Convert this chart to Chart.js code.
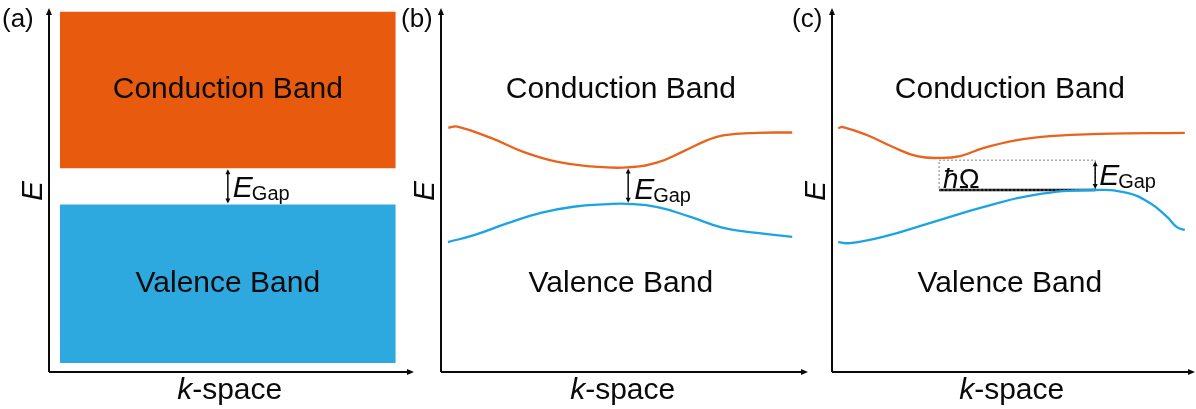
<!DOCTYPE html>
<html>
<head>
<meta charset="utf-8">
<script src="https://cdn.jsdelivr.net/npm/chart.js@4/dist/chart.umd.min.js"></script>
<style>
  html, body { margin: 0; padding: 0; background: #fff; }
  #wrap { position: relative; width: 1196px; height: 409px; overflow: hidden; }
  canvas { position: absolute; top: 0; }
</style>
</head>
<body>
<div id="wrap">
  <canvas id="panelA" width="420" height="409" style="left:0px"></canvas>
  <canvas id="panelB" width="415" height="409" style="left:395px"></canvas>
  <canvas id="panelC" width="406" height="409" style="left:790px"></canvas>
</div>
<script>
// k runs 0..100 along every x axis, energy 0..100 up every y axis

// (a) flat bands
const bandEdgeK = [3, 95];
const conductionBandA = [56, 99];   // [bottom, top]
const valenceBandA = [2.5, 46];     // [bottom, top]
const gapKA = 49;

// (b) direct gap
const kCondB = [2, 4.5, 13.6, 22.6, 31.8, 40.8, 50.8, 59, 66, 72.6, 76.9, 86.1, 95.7];
const conductionB = [67.1, 67.4, 64.3, 60.4, 57.7, 56.5, 56.2, 57.6, 60.6, 63.7, 65.0, 65.7, 65.8];
const kValB = [1.9, 9, 18.2, 27.2, 36.1, 45.4, 50.8, 59, 68, 76.9, 86.1, 95.7];
const valenceB = [35.7, 37.6, 40.9, 43.7, 45.4, 46.1, 46.2, 45.3, 42.6, 39.6, 38.2, 37.1];
const gapKB = 51;

// (c) indirect gap
const kCondC = [1.7, 3, 9.6, 16.8, 23.4, 29.8, 35.3, 41.6, 51, 60.1, 73.8, 97.2];
const conductionC = [67, 67.3, 65.1, 61.8, 59.3, 58.8, 59.3, 61.5, 63.7, 64.8, 65.4, 65.7];
const kValC = [1.7, 5, 14, 27.8, 41.6, 55.4, 71.9, 81.3, 87.6, 92.3, 95, 97.2];
const valenceC = [35.7, 35.4, 37.1, 41.2, 45.3, 48.6, 50, 49.2, 46.4, 42.6, 39.8, 39];
const phononK = [29.5, 72.5];       // [conduction minimum, valence maximum]
const phononE = [50, 58.2];         // [valence maximum, conduction minimum]

const ORANGE_FILL = '#E85B0E';
const BLUE_FILL = '#2EA9E0';
const ORANGE_LINE = '#E8631C';
const BLUE_LINE = '#1CA3E4';
const INK = '#0a0a0a';
const FONT = '"Liberation Sans", Arial, sans-serif';

function pts(xs, ys) {
  return xs.map((x, i) => ({ x: x, y: ys[i] }));
}

function curve(xs, ys, color) {
  return {
    data: pts(xs, ys),
    showLine: true,
    borderColor: color,
    borderWidth: 2.3,
    pointRadius: 0,
    tension: 0.45,
    fill: false
  };
}

function arrowHead(ctx, x, y, dir, len, half) {
  // dir: 'up', 'down', 'right'
  ctx.beginPath();
  if (dir === 'up') { ctx.moveTo(x, y); ctx.lineTo(x - half, y + len); ctx.lineTo(x + half, y + len); }
  if (dir === 'down') { ctx.moveTo(x, y); ctx.lineTo(x - half, y - len); ctx.lineTo(x + half, y - len); }
  if (dir === 'right') { ctx.moveTo(x, y); ctx.lineTo(x - len, y - half); ctx.lineTo(x - len, y + half); }
  ctx.closePath();
  ctx.fill();
}

function gapArrow(ctx, x, y1, y2) {
  ctx.strokeStyle = INK;
  ctx.fillStyle = INK;
  ctx.lineWidth = 1.5;
  ctx.beginPath();
  ctx.moveTo(x, y1 + 3);
  ctx.lineTo(x, y2 - 3);
  ctx.stroke();
  arrowHead(ctx, x, y1, 'up', 5, 2.5);
  arrowHead(ctx, x, y2, 'down', 5, 2.5);
}

function gapLabel(ctx, x, baseline) {
  ctx.fillStyle = INK;
  ctx.textAlign = 'left';
  ctx.textBaseline = 'alphabetic';
  ctx.font = 'italic 30px ' + FONT;
  ctx.fillText('E', x, baseline);
  const w = ctx.measureText('E').width;
  ctx.font = '20px ' + FONT;
  ctx.fillText('Gap', x + w - 1, baseline + 3);
}

// axes, panel tag, band names and gap marks
function annotations(spec) {
  return {
    id: 'bandNotes',
    afterDraw(chart) {
      const ctx = chart.ctx;
      const a = chart.chartArea;
      const xs = chart.scales.x;
      const ys = chart.scales.y;
      ctx.save();

      // arrow axes
      ctx.strokeStyle = INK;
      ctx.fillStyle = INK;
      ctx.lineWidth = 2;
      ctx.beginPath();
      ctx.moveTo(a.left, a.bottom);
      ctx.lineTo(a.left, a.top + 5);
      ctx.moveTo(a.left, a.bottom);
      ctx.lineTo(a.right - 5, a.bottom);
      ctx.stroke();
      arrowHead(ctx, a.left, a.top, 'up', 7, 3);
      arrowHead(ctx, a.right, a.bottom, 'right', 7, 3);

      // panel tag
      ctx.font = '26px ' + FONT;
      ctx.textAlign = 'left';
      ctx.textBaseline = 'alphabetic';
      ctx.fillText(spec.tag, spec.tagX, 27);

      // E axis title
      ctx.save();
      ctx.translate(a.left - 15, 191);
      ctx.rotate(-Math.PI / 2);
      ctx.font = 'italic 30px ' + FONT;
      ctx.textAlign = 'center';
      ctx.textBaseline = 'middle';
      ctx.fillText('E', 0, 0);
      ctx.restore();

      // k-space title
      ctx.font = 'italic 30px ' + FONT;
      const wk = ctx.measureText('k').width;
      ctx.font = '30px ' + FONT;
      const ws = ctx.measureText('-space').width;
      const cx = xs.getPixelForValue(49.5);
      const x0 = cx - (wk + ws) / 2;
      ctx.textAlign = 'left';
      ctx.font = 'italic 30px ' + FONT;
      ctx.fillText('k', x0, 399);
      ctx.font = '30px ' + FONT;
      ctx.fillText('-space', x0 + wk, 399);

      // band names
      ctx.font = '30px ' + FONT;
      ctx.textAlign = 'center';
      ctx.fillText('Conduction Band', xs.getPixelForValue(49), ys.getPixelForValue(75.3));
      ctx.fillText('Valence Band', xs.getPixelForValue(49), ys.getPixelForValue(22));

      // gap
      const gx = xs.getPixelForValue(spec.gapK);
      const gTop = ys.getPixelForValue(spec.gapE[1]);
      const gBot = ys.getPixelForValue(spec.gapE[0]);
      gapArrow(ctx, gx, gTop + 1, gBot - 1);
      gapLabel(ctx, gx + spec.labelDx, spec.labelBase);

      if (spec.phonon) {
        const px = xs.getPixelForValue(phononK[0]);
        const py = ys.getPixelForValue(phononE[0]);
        ctx.fillStyle = INK;
        ctx.textAlign = 'left';
        ctx.font = 'italic 28px ' + FONT;
        ctx.fillText('ħ', px + 4, py - 2);
        const wh = ctx.measureText('ħ').width;
        ctx.font = '28px ' + FONT;
        ctx.fillText('Ω', px + 4 + wh, py - 2);
      }
      ctx.restore();
    }
  };
}

function makeChart(id, datasets, padding, spec) {
  return new Chart(document.getElementById(id), {
    type: 'scatter',
    data: { datasets: datasets },
    options: {
      responsive: false,
      animation: false,
      layout: { padding: padding },
      plugins: { legend: { display: false }, tooltip: { enabled: false } },
      scales: {
        x: { type: 'linear', min: 0, max: 100, display: false },
        y: { type: 'linear', min: 0, max: 100, display: false }
      }
    },
    plugins: [annotations(spec)]
  });
}

// (a)
makeChart('panelA', [
  {
    data: bandEdgeK.map(k => ({ x: k, y: conductionBandA[1] })),
    showLine: true, borderWidth: 0, pointRadius: 0,
    backgroundColor: ORANGE_FILL,
    fill: { value: conductionBandA[0] }
  },
  {
    data: bandEdgeK.map(k => ({ x: k, y: valenceBandA[1] })),
    showLine: true, borderWidth: 0, pointRadius: 0,
    backgroundColor: BLUE_FILL,
    fill: { value: valenceBandA[0] }
  }
], { left: 49, right: 6, top: 8, bottom: 37 },
{ tag: '(a)', tagX: 2, gapK: gapKA, gapE: [valenceBandA[1], conductionBandA[0]], labelDx: 5, labelBase: 197 });

// (b)
makeChart('panelB', [
  curve(kCondB, conductionB, ORANGE_LINE),
  curve(kValB, valenceB, BLUE_LINE)
], { left: 46, right: 2, top: 8, bottom: 37 },
{ tag: '(b)', tagX: 6, gapK: gapKB, gapE: [Math.max(...valenceB), Math.min(...conductionB)], labelDx: 6, labelBase: 199 });

// (c)
makeChart('panelC', [
  curve(kCondC, conductionC, ORANGE_LINE),
  curve(kValC, valenceC, BLUE_LINE),
  {
    // dotted outline between the two band extrema
    data: pts([phononK[0], phononK[1], phononK[1], phononK[0], phononK[0]],
              [phononE[1], phononE[1], phononE[0], phononE[0], phononE[1]]),
    showLine: true, borderColor: '#808080', borderWidth: 1, borderDash: [2, 2],
    pointRadius: 0, tension: 0, fill: false
  },
  {
    data: pts(phononK, [phononE[0], phononE[0]]),
    showLine: true, borderColor: INK, borderWidth: 2.5,
    pointRadius: 0, tension: 0, fill: false
  }
], { left: 42, right: 1, top: 8, bottom: 37 },
{ tag: '(c)', tagX: 2, gapK: phononK[1], gapE: phononE, labelDx: 4, labelBase: 185, phonon: true });
</script>
</body>
</html>
